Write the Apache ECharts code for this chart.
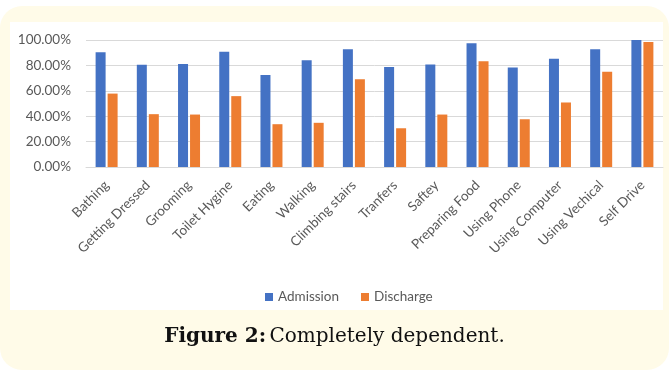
<!DOCTYPE html>
<html>
<head>
<meta charset="utf-8">
<script src="https://cdn.jsdelivr.net/npm/echarts@6/dist/echarts.min.js"></script>
<style>
  html, body { margin: 0; padding: 0; background: #ffffff; }
  #chart { width: 669px; height: 371px; }
</style>
</head>
<body>
<div id="chart"></div>
<script>
// Activities of daily living, share of patients completely dependent
const categories = [
  'Bathing', 'Getting Dressed', 'Grooming', 'Toilet Hygine', 'Eating',
  'Walking', 'Climbing stairs', 'Tranfers', 'Saftey', 'Preparing Food',
  'Using Phone', 'Using Computer', 'Using Vechical', 'Self Drive'
];
const admission = [90.3, 80.5, 81.2, 90.7, 72.4, 84.0, 92.8, 78.7, 80.8, 97.4, 78.4, 85.3, 92.8, 100.0];
const discharge = [57.8, 41.6, 41.3, 55.8, 33.7, 34.8, 69.0, 30.5, 41.3, 83.2, 37.6, 50.8, 75.0, 98.4];
const yTicks = [0, 20, 40, 60, 80, 100];

const chart = echarts.init(document.getElementById('chart'), null, { renderer: 'canvas' });

const labelColor = '#595959';
const gridColor = '#d9d9d9';

chart.setOption({
  animation: false,
  backgroundColor: '#ffffff',
  graphic: [
    // cream panel
    {
      type: 'rect', z: -10, silent: true,
      shape: { x: 0, y: 6, width: 669, height: 364, r: [22, 22, 22, 22] },
      style: { fill: '#fffbe8' }
    },
    // white chart area
    {
      type: 'rect', z: -9, silent: true,
      shape: { x: 10, y: 22, width: 653, height: 288 },
      style: { fill: '#ffffff' }
    },
    // caption
    {
      type: 'text', z: 10, silent: true,
      left: 'center', top: 327,
      style: {
        rich: {
          b: { fontFamily: 'DejaVu Serif', fontWeight: 'bold', fontSize: 20, fill: '#111111' },
          n: { fontFamily: 'DejaVu Serif', fontSize: 20, fill: '#111111' }
        },
        text: '{b|Figure 2:} {n|Completely dependent.}'
      }
    }
  ],
  legend: {
    data: ['Admission', 'Discharge'],
    left: 260,
    top: 285,
    itemWidth: 8,
    itemHeight: 8,
    itemGap: 22,
    icon: 'rect',
    textStyle: { color: labelColor, fontFamily: 'Lato', fontSize: 13.5 }
  },
  grid: { left: 86, right: 6, top: 40, bottom: 204 },
  xAxis: {
    type: 'category',
    data: categories,
    axisLine: { show: true, lineStyle: { color: gridColor, width: 1 } },
    axisTick: { show: false },
    axisLabel: {
      interval: 0,
      rotate: 45,
      color: labelColor,
      fontFamily: 'Lato',
      fontSize: 13.5,
      margin: 16
    }
  },
  yAxis: {
    type: 'value',
    min: yTicks[0],
    max: yTicks[yTicks.length - 1],
    interval: 20,
    axisLine: { show: false },
    axisTick: { show: false },
    splitLine: { lineStyle: { color: gridColor, width: 1 } },
    axisLabel: {
      color: labelColor,
      fontFamily: 'Lato',
      fontSize: 13.5,
      margin: 15,
      formatter: v => v.toFixed(2) + '%'
    }
  },
  series: [
    {
      name: 'Admission', type: 'bar', data: admission,
      barWidth: 10, barGap: '20%',
      itemStyle: { color: '#4472c4' }
    },
    {
      name: 'Discharge', type: 'bar', data: discharge,
      barWidth: 10,
      itemStyle: { color: '#ed7d31' }
    }
  ]
});
</script>
</body>
</html>
